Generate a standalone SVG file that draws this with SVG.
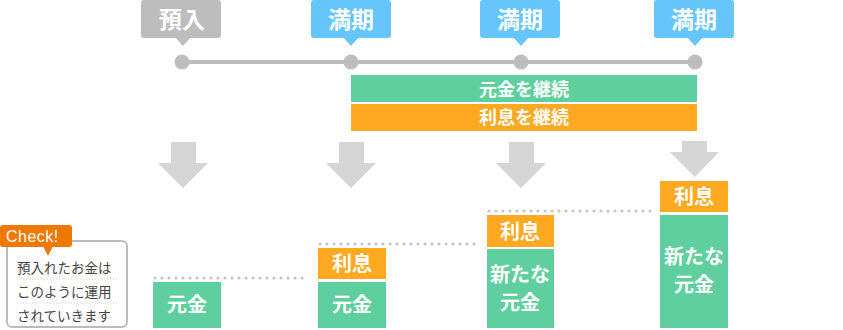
<svg xmlns="http://www.w3.org/2000/svg" width="843" height="330" viewBox="0 0 843 330">
<style>
text{font-family:"Noto Sans CJK JP","Noto Sans",sans-serif;text-anchor:middle}
.lbl{font-size:23px;fill:#fff;font-weight:bold}
.bar{font-size:18px;fill:#fff;font-weight:bold}
.box{font-size:20px;fill:#fff;font-weight:bold}
.g{fill:#60cf9f}
.o{fill:#ffa822}
.arr{fill:#d4d5d4}
.dot{stroke:#c4c4c4;stroke-width:3.2;stroke-linecap:round;stroke-dasharray:0 7;fill:none}
.sep{stroke:#d0d0d0;stroke-width:1;stroke-dasharray:1 2;fill:none}
.ck{font-size:13.5px;fill:#444;text-anchor:start}
</style>
<g id="connectors">
<line x1="182" y1="62" x2="695" y2="62" stroke="#bdbdbd" stroke-width="4"/>
<circle cx="182" cy="62" r="7.5" fill="#bdbdbd"/>
<circle cx="351" cy="62" r="7.5" fill="#bdbdbd"/>
<circle cx="521" cy="62" r="7.5" fill="#bdbdbd"/>
<circle cx="695" cy="62" r="7.5" fill="#bdbdbd"/>
<polygon class="arr" points="171,142 196,142 196,163 208,163 183,188 158,163 171,163"/>
<polygon class="arr" points="339,142 364,142 364,163 376,163 351,188 326,163 339,163"/>
<polygon class="arr" points="509,142 534,142 534,163 546,163 521,188 496,163 509,163"/>
<polygon class="arr" points="682,141 707,141 707,152 719,152 695,177 670,152 682,152"/>
<line class="dot" x1="155" y1="278" x2="308" y2="278"/>
<line class="dot" x1="320" y1="244" x2="478" y2="244"/>
<line class="dot" x1="489" y1="211" x2="653" y2="211"/>
</g>
<g id="label-deposit">
<rect x="141" y="0" width="80" height="38" rx="3" fill="#bdbdbd"/>
<polygon points="175,37 191,37 183,46" fill="#bdbdbd"/>
<text class="lbl" x="182" y="28">預入</text>
</g>
<g id="label-maturity1">
<rect x="311" y="0" width="80" height="38" rx="3" fill="#66c5fb"/>
<polygon points="343,37 359,37 351,46" fill="#66c5fb"/>
<text class="lbl" x="351" y="28">満期</text>
</g>
<g id="label-maturity2">
<rect x="480" y="0" width="80" height="38" rx="3" fill="#66c5fb"/>
<polygon points="513,37 529,37 521,46" fill="#66c5fb"/>
<text class="lbl" x="520" y="28">満期</text>
</g>
<g id="label-maturity3">
<rect x="654" y="0" width="80" height="38" rx="3" fill="#66c5fb"/>
<polygon points="687,37 703,37 695,46" fill="#66c5fb"/>
<text class="lbl" x="694" y="28">満期</text>
</g>
<g id="bar-principal">
<rect class="g" x="351" y="75" width="346" height="27"/>
<text class="bar" x="524" y="96">元金を継続</text>
</g>
<g id="bar-interest">
<rect class="o" x="351" y="104" width="346" height="27"/>
<text class="bar" x="524" y="124">利息を継続</text>
</g>
<g id="stack1">
<rect class="g" x="153" y="282" width="68" height="46"/>
<text class="box" x="187" y="312">元金</text>
</g>
<g id="stack2">
<rect class="o" x="318" y="248" width="68" height="31"/>
<text class="box" x="352" y="271">利息</text>
<rect class="g" x="318" y="282" width="68" height="46"/>
<text class="box" x="352" y="312">元金</text>
</g>
<g id="stack3">
<rect class="o" x="487" y="215" width="67" height="32"/>
<text class="box" x="520" y="239">利息</text>
<rect class="g" x="487" y="249" width="67" height="79"/>
<text class="box" x="520" y="282">新たな</text>
<text class="box" x="520" y="310">元金</text>
</g>
<g id="stack4">
<rect class="o" x="660" y="181" width="68" height="31"/>
<text class="box" x="694" y="204">利息</text>
<rect class="g" x="660" y="215" width="68" height="113"/>
<text class="box" x="694" y="264">新たな</text>
<text class="box" x="694" y="292">元金</text>
</g>
<g id="check">
<rect x="7" y="241" width="120" height="86" rx="5" fill="#fff" stroke="#bbbbbb" stroke-width="2"/>
<rect x="0" y="225" width="72" height="22" rx="3" fill="#ee7800"/>
<polygon points="43,246 53,246 48,256" fill="#ee7800"/>
<text x="6" y="242" style="font-family:'Liberation Sans',Arial,sans-serif;font-size:16px;fill:#fff;text-anchor:start;letter-spacing:0.5px">Check!</text>
<text class="ck" x="17" y="273">預入れたお金は</text>
<line class="sep" x1="17" y1="279" x2="118" y2="279"/>
<text class="ck" x="17" y="297">このように運用</text>
<line class="sep" x1="17" y1="303" x2="118" y2="303"/>
<text class="ck" x="17" y="321">されていきます</text>
</g>
</svg>
